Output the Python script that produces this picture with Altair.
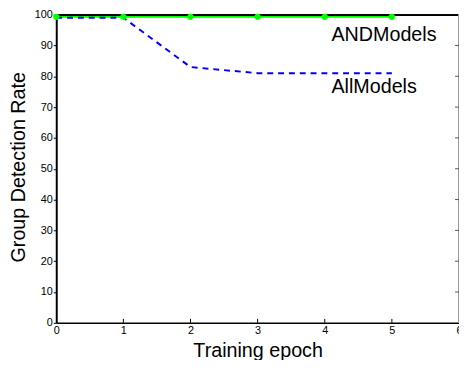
import altair as alt
import pandas as pd

epochs = [0, 1, 2, 3, 4, 5]
and_models = [99.3, 99.3, 99.3, 99.3, 99.3, 99.3]
all_models = [99.0, 99.0, 83.0, 81.0, 81.0, 81.0]

label_names = ["ANDModels", "AllModels"]
label_x = [4.1, 4.1]
label_y = [93.5, 76.6]

x_ticks = [0, 1, 2, 3, 4, 5, 6]
y_ticks = [0, 10, 20, 30, 40, 50, 60, 70, 80, 90, 100]

W, H = 409, 313
TOP = 4
FONT = "Liberation Sans"

df = pd.DataFrame({"epoch": epochs, "and": and_models, "all": all_models})
lab = pd.DataFrame({"name": label_names, "x": label_x, "y": label_y})
yt = pd.DataFrame({"v": y_ticks[1:-1]})
xt = pd.DataFrame({"v": x_ticks[1:-1]})

xs = alt.Scale(domain=[0, 6], nice=False, zero=False)
ys = alt.Scale(domain=[0, 100], nice=False, zero=False)

xax = alt.Axis(values=x_ticks, format="d", grid=False, tickSize=0, labelPadding=2,
               labelOverlap=False, labelFlush=False,
               labelFontSize=11, labelFont=FONT, labelColor="black",
               domainColor="black", domainWidth=1.5,
               title="Training epoch", titleFont=FONT, titleFontSize=20,
               titleFontWeight="normal", titleColor="black",
               titleBaseline="alphabetic", titleY=34, titleX=W / 2)
yax = alt.Axis(values=y_ticks, format="d", grid=False, tickSize=3, tickColor="black",
               labelOverlap=False, labelFlush=False,
               labelPadding=1, labelFontSize=11, labelFont=FONT, labelColor="black",
               domainColor="black", domainWidth=2,
               title="Group Detection Rate", titleFont=FONT, titleFontSize=20,
               titleFontWeight="normal", titleColor="black", titleAngle=-90,
               titleBaseline="alphabetic", titleAlign="center", titleX=-32, titleY=H / 2 - 2)

base = alt.Chart(df)

green_line = base.mark_line(color="#00ff00", strokeWidth=2.2, clip=False).encode(
    x=alt.X("epoch:Q", scale=xs, axis=xax, title="Training epoch"),
    y=alt.Y("and:Q", scale=ys, axis=yax, title="Group Detection Rate"),
)
blue_line = base.mark_line(color="#0000ff", strokeWidth=2, strokeDash=[6, 5]).encode(
    x=alt.X("epoch:Q", scale=xs, axis=xax, title="Training epoch"),
    y=alt.Y("all:Q", scale=ys, axis=yax, title="Group Detection Rate"),
)
green_pts = base.mark_point(color="#00ff00", filled=True, opacity=1, size=40, clip=False).encode(
    x=alt.X("epoch:Q", scale=xs, axis=xax, title="Training epoch"),
    y=alt.Y("and:Q", scale=ys, axis=yax, title="Group Detection Rate"),
)
labels = alt.Chart(lab).mark_text(align="left", baseline="middle", font=FONT,
                                  fontSize=20, color="black").encode(
    x=alt.X("x:Q", scale=xs, axis=xax, title="Training epoch"),
    y=alt.Y("y:Q", scale=ys, axis=yax, title="Group Detection Rate"),
    text="name:N",
)
right_ticks = alt.Chart(yt).mark_rule(color="#555555", strokeWidth=1).encode(
    y=alt.Y("v:Q", scale=ys, axis=yax, title="Group Detection Rate"),
    x=alt.value(W - 4),
    x2=alt.value(W),
)
bottom_ticks = alt.Chart(xt).mark_rule(color="black", strokeWidth=1).encode(
    x=alt.X("v:Q", scale=xs, axis=xax, title="Training epoch"),
    y=alt.value(H - 4),
    y2=alt.value(H),
)
top_border = alt.Chart(xt).mark_rule(color="black", strokeWidth=1.5).encode(
    x=alt.value(0), x2=alt.value(W), y=alt.value(0.5),
)
right_border = alt.Chart(xt).mark_rule(color="#999999", strokeWidth=1).encode(
    x=alt.value(W - 0.5), y=alt.value(0), y2=alt.value(H),
)

chart = alt.layer(
    green_line, top_border, right_border, right_ticks, bottom_ticks,
    blue_line, green_pts, labels,
).properties(
    width=W, height=H,
    autosize=alt.AutoSizeParams(type="none"),
    padding={"left": 49, "top": TOP, "right": 0, "bottom": 35},
    background="white",
).configure_view(stroke=None).configure_axis(labelOverlap=False)

chart.save("out.html", embed_options={"renderer": "svg", "actions": False})
